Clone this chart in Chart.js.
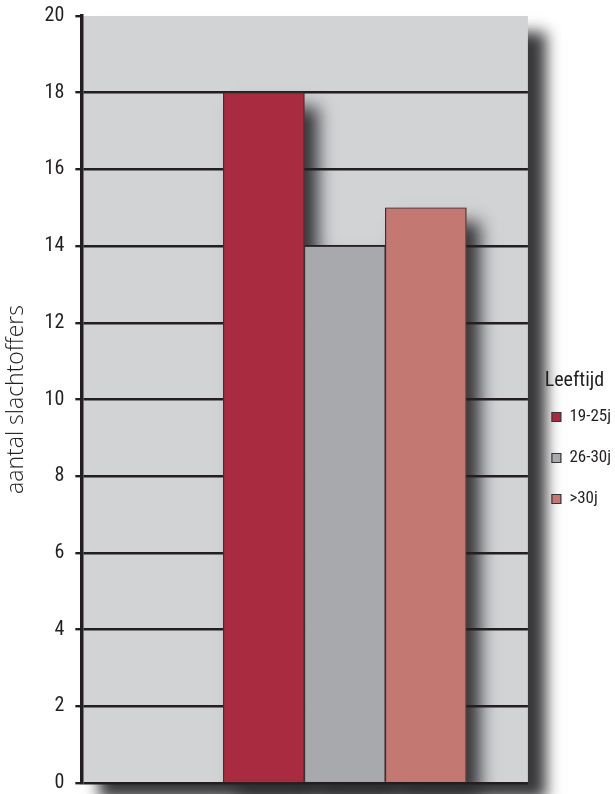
<!DOCTYPE html>
<html>
<head>
<meta charset="utf-8">
<script src="https://cdn.jsdelivr.net/npm/chart.js@4.4.1/dist/chart.umd.min.js"></script>
<style>
  html, body { margin: 0; padding: 0; background: #fff; }
  #wrap { width: 615px; height: 794px; position: relative; }
</style>
</head>
<body>
<div id="wrap"><canvas id="myChart"></canvas></div>
<script>

const ageGroups = ['19-25j', '26-30j', '>30j']
const victims = [18, 14, 15]
const barColors = ['#a82b3f', '#a8a9ad', '#c47872']
const yTicks = [0, 2, 4, 6, 8, 10, 12, 14, 16, 18, 20]

const narrow = "'Roboto Condensed', 'DejaVu Sans Condensed', sans-serif"
const ink = '#231f20'

// gray plot background plus the soft drop shadows (drawn before the grid)
const shadowPlugin = {
  id: 'shadowPlugin',
  beforeDraw(chart){
    const ctx = chart.ctx
    const a = chart.chartArea
    ctx.save()
    ctx.shadowColor = 'rgba(45,45,48,0.95)'
    ctx.shadowBlur = 14
    ctx.shadowOffsetX = 18
    ctx.shadowOffsetY = 16
    ctx.fillStyle = '#d2d3d5'
    ctx.fillRect(a.left, a.top, a.right - a.left, a.bottom - a.top)

    ctx.shadowBlur = 16
    ctx.shadowOffsetX = 14
    ctx.shadowOffsetY = 14
    chart.data.datasets.forEach((ds, i) => {
      chart.getDatasetMeta(i).data.forEach(bar => {
        ctx.fillStyle = ds.backgroundColor
        ctx.fillRect(bar.x - bar.width/2, bar.y, bar.width, bar.base - bar.y)
      })
    })
    ctx.restore()
  }
}

const datasets = ageGroups.map((name, i) => ({
  label: name,
  data: [{x: 0, y: victims[i]}],
  backgroundColor: barColors[i],
  borderColor: '#3a3234',
  borderWidth: 1.2,
  barThickness: 81
}))

const config = {
  type: 'bar',
  data: { datasets: datasets },
  options: {
    responsive: true,
    maintainAspectRatio: false,
    animation: false,
    layout: { padding: { top: 16, bottom: 0, right: -6, left: 0 } },
    scales: {
      x: {
        type: 'linear',
        display: false,
        offset: false,
        min: -0.59,
        max: 0.41,
        grid: { display: false }
      },
      y: {
        min: 0,
        max: 20,
        afterBuildTicks: scale => { scale.ticks = yTicks.map(v => ({value: v})) },
        border: { color: ink, width: 3.5 },
        grid: {
          color: ctx => ctx.tick && ctx.tick.value === 20 ? 'rgba(0,0,0,0)' : ink,
          tickColor: ink,
          lineWidth: 2.4,
          tickLength: 6
        },
        ticks: {
          color: ink,
          padding: 11,
          // lineHeight 0 keeps the labels from adding extra top/bottom room
          font: { family: narrow, size: 20, lineHeight: 0 }
        },
        title: {
          display: true,
          text: 'aantal slachtoffers',
          color: ink,
          font: { family: "'Open Sans', sans-serif", size: 23, weight: 300 },
          padding: { top: 3, bottom: 3 }
        }
      }
    },
    plugins: {
      tooltip: { enabled: false },
      legend: {
        position: 'right',
        align: 'center',
        title: {
          display: true,
          text: 'Leeftijd',
          color: ink,
          font: { family: narrow, size: 20 },
          padding: { top: 92, bottom: -10 }
        },
        labels: {
          color: ink,
          boxWidth: 9,
          boxHeight: 9,
          padding: 24,
          font: { family: narrow, size: 17 }
        }
      }
    }
  },
  plugins: [shadowPlugin]
}

const myChart = new Chart(document.getElementById('myChart'), config)
</script>
</body>
</html>
